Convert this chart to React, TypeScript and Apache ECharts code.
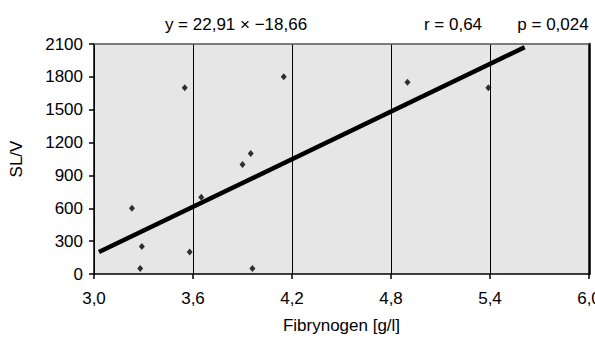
import React, { useEffect, useRef } from "react";
import * as echarts from "echarts";

const fibrynogen = [3.23, 3.28, 3.29, 3.55, 3.58, 3.65, 3.9, 3.95, 3.96, 4.15, 4.9, 5.39];
const slv = [600, 50, 250, 1700, 200, 700, 1000, 1100, 50, 1800, 1750, 1700];
const trendX = [3.03, 5.61];
const trendY = [200, 2070];
const headerTexts = ["y = 22,91 × \u221218,66", "r = 0,64", "p = 0,024"];
const xTicks = { min: 3.0, max: 6.0, step: 0.6 };
const yTicks = { min: 0, max: 2100, step: 300 };

const FONT = '"Liberation Sans", Arial, sans-serif';

export default function App() {
  const ref = useRef<HTMLDivElement>(null);
  useEffect(() => {
    if (!ref.current) return;
    const chart = echarts.init(ref.current, undefined, { renderer: "svg" });
    const points = fibrynogen.map((x, i) => [x, slv[i]]);
    const trend = trendX.map((x, i) => [x, trendY[i]]);
    const fmt = (v: number) => v.toFixed(1).replace(".", ",");
    chart.setOption({
      animation: false,
      backgroundColor: "#ffffff",
      textStyle: { fontFamily: FONT },
      grid: {
        left: 94,
        right: 6,
        top: 44,
        bottom: 64,
        show: true,
        backgroundColor: "#e6e6e6",
        borderWidth: 0,
        containLabel: false,
        outerBoundsMode: "none",
      },
      graphic: [
        { type: "text", x: 236, y: 24, style: { text: headerTexts[0], font: `17px ${FONT}`, fill: "#000", align: "center", verticalAlign: "middle" } },
        { type: "text", x: 453, y: 24, style: { text: headerTexts[1], font: `17px ${FONT}`, fill: "#000", align: "center", verticalAlign: "middle" } },
        { type: "text", x: 553, y: 24, style: { text: headerTexts[2], font: `17px ${FONT}`, fill: "#000", align: "center", verticalAlign: "middle" } },
      ],
      xAxis: [
        {
          type: "value",
          min: xTicks.min,
          max: xTicks.max,
          interval: xTicks.step,
          name: "Fibrynogen [g/l]",
          nameLocation: "middle",
          nameGap: 43,
          nameTextStyle: { color: "#000", fontSize: 17, fontFamily: FONT },
          axisLine: { show: true, onZero: false, lineStyle: { color: "#000", width: 1.5 } },
          axisTick: { show: true, length: 5, lineStyle: { color: "#000", width: 1.5 } },
          axisLabel: { color: "#000", fontSize: 17, fontFamily: FONT, margin: 16, formatter: fmt },
          splitLine: { show: true, lineStyle: { color: "#000", width: 1 } },
        },
        {
          type: "value",
          position: "top",
          min: xTicks.min,
          max: xTicks.max,
          interval: xTicks.step,
          axisLine: { show: true, onZero: false, lineStyle: { color: "#555", width: 1.5 } },
          axisTick: { show: false },
          axisLabel: { show: false },
          splitLine: { show: false },
        },
      ],
      yAxis: [
        {
          type: "value",
          min: yTicks.min,
          max: yTicks.max,
          interval: yTicks.step,
          name: "SL/V",
          nameLocation: "middle",
          nameGap: 69,
          nameTextStyle: { color: "#000", fontSize: 17, fontFamily: FONT },
          axisLine: { show: true, onZero: false, lineStyle: { color: "#000", width: 1.5 } },
          axisTick: { show: true, length: 5, lineStyle: { color: "#000", width: 1.5 } },
          axisLabel: { color: "#000", fontSize: 17, fontFamily: FONT, margin: 11, formatter: (v: number) => String(v) },
          splitLine: { show: false },
        },
        {
          type: "value",
          position: "right",
          min: yTicks.min,
          max: yTicks.max,
          interval: yTicks.step,
          axisLine: { show: true, onZero: false, lineStyle: { color: "#000", width: 2.5 } },
          axisTick: { show: false },
          axisLabel: { show: false },
          splitLine: { show: false },
        },
      ],
      series: [
        {
          type: "scatter",
          data: points,
          symbol: "diamond",
          symbolSize: [6, 7],
          itemStyle: { color: "#000" },
          z: 3,
        },
        {
          type: "line",
          data: trend,
          symbol: "none",
          lineStyle: { color: "#000", width: 4.5 },
          z: 4,
        },
      ],
    });
    return () => chart.dispose();
  }, []);
  return (
    <div
      ref={ref}
      style={{ position: "fixed", left: 0, top: 0, width: 595, height: 338 }}
    />
  );
}
